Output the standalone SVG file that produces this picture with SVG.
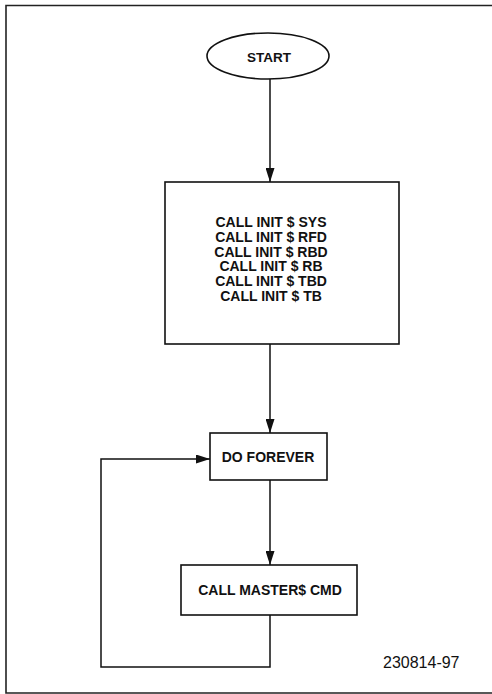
<svg xmlns="http://www.w3.org/2000/svg" width="492" height="694" viewBox="0 0 492 694">
<style>
.shape{fill:#fff;stroke:#111;stroke-width:1.6}
.line{fill:none;stroke:#111;stroke-width:1.5}
.t{font-family:"Liberation Sans",Arial,sans-serif;font-weight:bold;font-size:14px;fill:#111;text-anchor:middle}
.lbl{font-family:"Liberation Sans",Arial,sans-serif;font-size:16px;fill:#111}
</style>
<defs>
<marker id="ah" viewBox="0 0 14 9" refX="14" refY="4.5" markerWidth="14" markerHeight="9" markerUnits="userSpaceOnUse" orient="auto">
<path d="M0,0 L14,4.5 L0,9 z" fill="#111"/>
</marker>
</defs>
<rect width="492" height="694" fill="#fff"/>
<path d="M492,5.5 H6 V693 H492" fill="none" stroke="#222" stroke-width="1.6"/>
<g id="connectors">
<line class="line" x1="270" y1="79" x2="270" y2="182" marker-end="url(#ah)"/>
<line class="line" x1="270" y1="344" x2="270" y2="433" marker-end="url(#ah)"/>
<line class="line" x1="270" y1="480" x2="270" y2="565" marker-end="url(#ah)"/>
<polyline class="line" points="270,615 270,667 101,667 101,459 210,459" marker-end="url(#ah)"/>
</g>
<g id="start">
<ellipse class="shape" cx="268" cy="56" rx="61" ry="23"/>
<text class="t" x="269" y="62" style="font-size:13.5px">START</text>
</g>
<g id="init">
<rect class="shape" x="165" y="182" width="234" height="162"/>
<text class="t" x="271" y="227">CALL INIT $ SYS</text>
<text class="t" x="271" y="242">CALL INIT $ RFD</text>
<text class="t" x="271" y="256.5">CALL INIT $ RBD</text>
<text class="t" x="271" y="271">CALL INIT $ RB</text>
<text class="t" x="271" y="285.5">CALL INIT $ TBD</text>
<text class="t" x="271" y="301">CALL INIT $ TB</text>
</g>
<g id="doforever">
<rect class="shape" x="210" y="433" width="117" height="47"/>
<text class="t" x="268" y="462">DO FOREVER</text>
</g>
<g id="callmasters">
<rect class="shape" x="181" y="565" width="176" height="50"/>
<text class="t" x="270" y="595">CALL MASTER$ CMD</text>
</g>
<text class="lbl" x="383" y="668">230814-97</text>
</svg>
